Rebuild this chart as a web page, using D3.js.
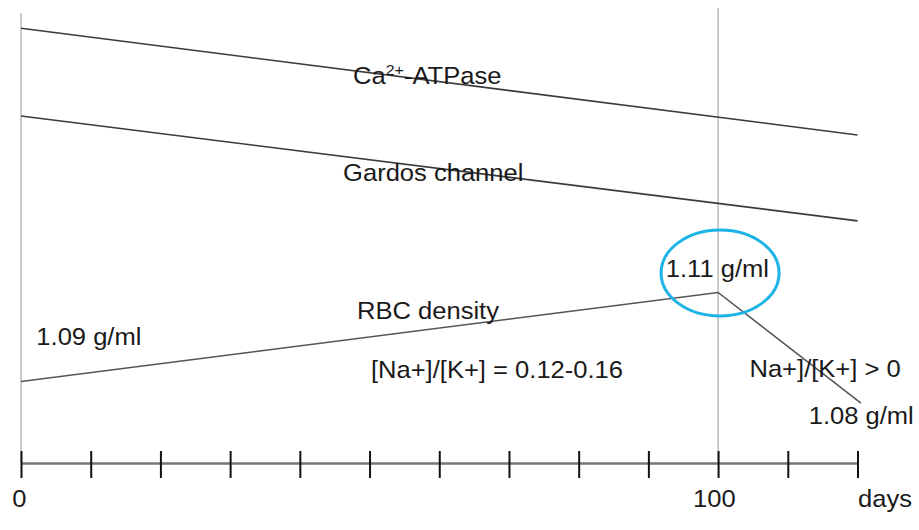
<!DOCTYPE html>
<html>
<head>
<meta charset="utf-8">
<script src="https://cdn.jsdelivr.net/npm/d3@7"></script>
<style>
  body { margin: 0; background: #fff; }
  text { font-family: "Liberation Sans", Arial, sans-serif; fill: #1a1a1a; }
</style>
</head>
<body>
<svg id="chart" width="919" height="530"></svg>
<script>
// days on the x axis, levels in arbitrary units (no y axis in the figure)
const tickDays = d3.range(0, 121, 10);
const tickLabels = { 0: '0', 100: '100', 120: 'days' };

const caAtpase = [ { day: 0, v: 96.6 }, { day: 120, v: 72.9 } ];
const gardos = [ { day: 0, v: 77.1 }, { day: 120, v: 53.8 } ];
const rbcDensity = [ { day: 0, v: 18.1 }, { day: 100, v: 37.9 }, { day: 120.5, v: 13.3 } ];

const notes = [
  { text: '1.09 g/ml', day: 2.2, v: 26.3 },
  { text: 'RBC density', day: 48.2, v: 31.9 },
  { text: '[Na+]/[K+] = 0.12-0.16', day: 50.2, v: 18.9 },
  { text: '1.11 g/ml', day: 92.5, v: 41.3 },
  { text: 'Na+]/[K+] > 0', day: 104.5, v: 19.1 },
  { text: '1.08 g/ml', day: 113, v: 8.6 },
  { text: 'Gardos channel', day: 46.2, v: 62.7 }
];

const stretch = 1.065; // text in the original is a little wider than Arial

const svg = d3.select('#chart');
const x = d3.scaleLinear().domain([0, 120]).range([21, 857.5]);
const y = d3.scaleLinear().domain([0, 100]).range([463, 13]);

// vertical guide lines at day 0 and day 100
svg.append('line')
  .attr('x1', x(0)).attr('x2', x(0))
  .attr('y1', 13).attr('y2', y(0))
  .attr('stroke', '#a8a8a8').attr('stroke-width', 1.2);
svg.append('line')
  .attr('x1', x(100)).attr('x2', x(100))
  .attr('y1', 8).attr('y2', y(0))
  .attr('stroke', '#a8a8a8').attr('stroke-width', 1.2);

const line = d3.line().x(d => x(d.day)).y(d => y(d.v));

[caAtpase, gardos].forEach(s => {
  svg.append('path')
    .datum(s)
    .attr('d', line)
    .attr('fill', 'none')
    .attr('stroke', '#3a3a3a')
    .attr('stroke-width', 1.6);
});

svg.append('path')
  .datum(rbcDensity)
  .attr('d', line)
  .attr('fill', 'none')
  .attr('stroke', '#555')
  .attr('stroke-width', 1.5);

// x axis
const axis = svg.append('g')
  .attr('transform', 'translate(0,' + y(0) + ')')
  .call(d3.axisBottom(x)
    .tickValues(tickDays)
    .tickSize(0)
    .tickPadding(44)
    .tickFormat(d => tickLabels[d] || ''));

axis.select('.domain')
  .attr('stroke', '#777')
  .attr('stroke-width', 2.5);
axis.selectAll('.tick line')
  .attr('y1', -12).attr('y2', 15)
  .attr('stroke', '#111').attr('stroke-width', 2);
axis.selectAll('.tick text')
  .attr('font-size', 24)
  .attr('fill', '#1a1a1a')
  .attr('dy', 0)
  .attr('text-anchor', d => d === 120 ? 'start' : 'middle')
  .attr('x', d => d === 100 ? -4 : (d === 0 ? -2 : 0))
  .attr('transform', 'scale(' + stretch + ',1)');

// labels
const lbl = svg.append('g').attr('font-size', 24);

const ca = lbl.append('text')
  .attr('transform', 'translate(353,' + y(84.2) + ') scale(' + stretch + ',1)');
ca.append('tspan').text('Ca');
ca.append('tspan').attr('font-size', 15).attr('dy', -9).text('2+');
ca.append('tspan').attr('dy', 9).text('-ATPase');

lbl.selectAll('text.note')
  .data(notes)
  .join('text')
  .attr('class', 'note')
  .attr('transform', d => 'translate(' + x(d.day) + ',' + y(d.v) + ') scale(' + stretch + ',1)')
  .text(d => d.text);

// highlight ellipse around the peak density
svg.append('ellipse')
  .attr('cx', x(100) + 2)
  .attr('cy', 273)
  .attr('rx', 59)
  .attr('ry', 43)
  .attr('fill', 'none')
  .attr('stroke', '#1cb4e6')
  .attr('stroke-width', 3);
</script>
</body>
</html>
